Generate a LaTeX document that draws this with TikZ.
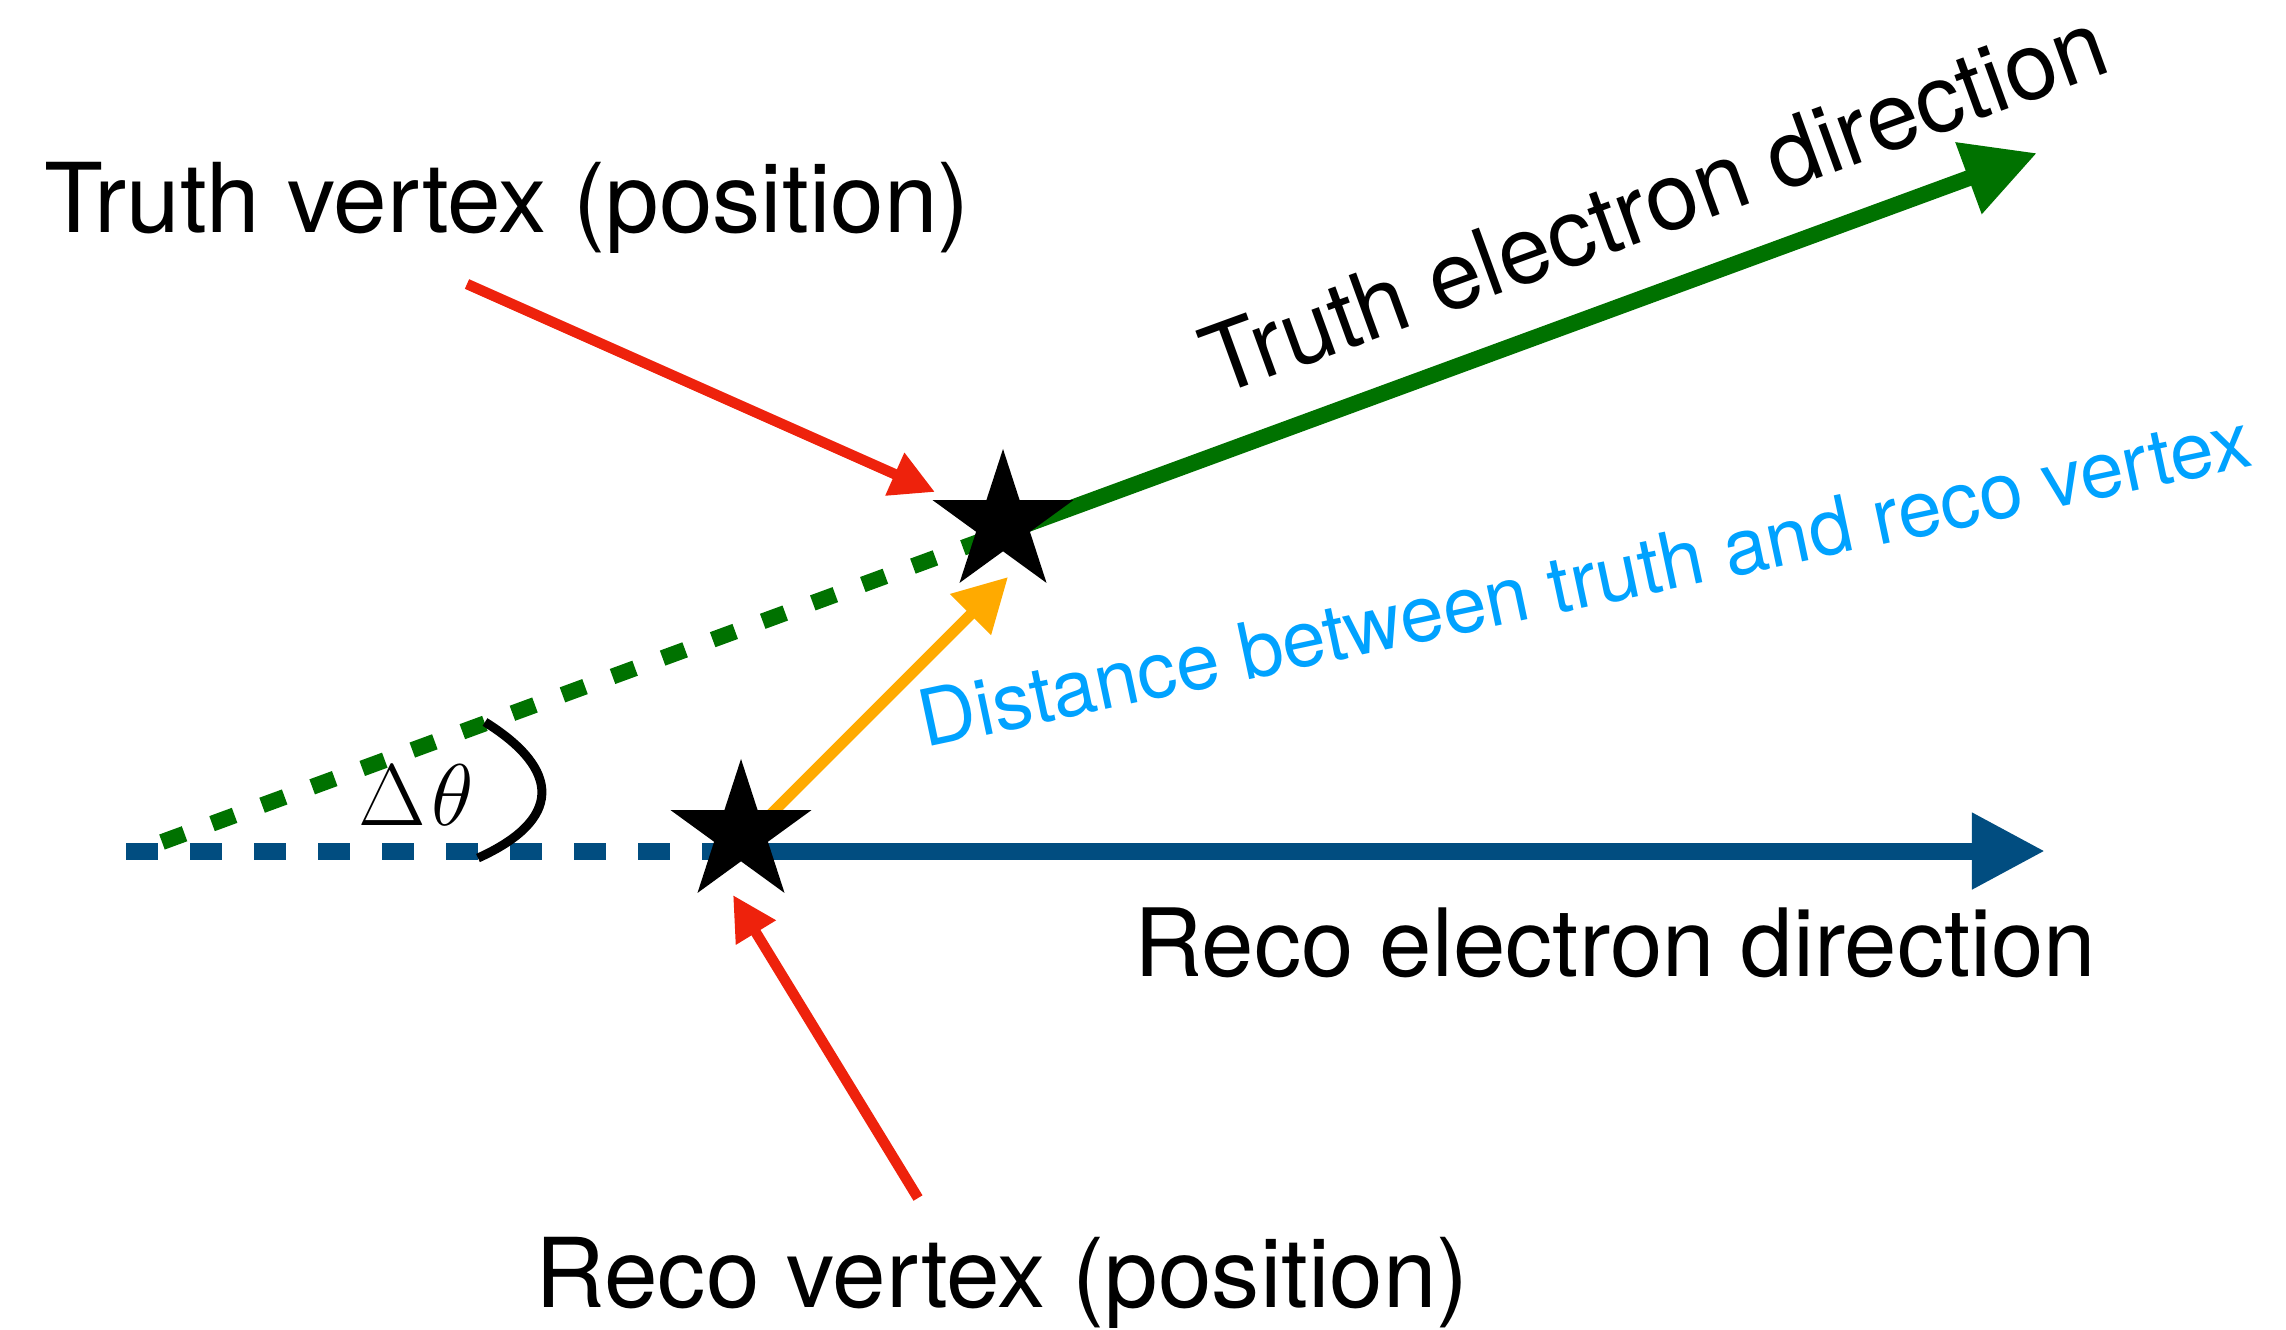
\documentclass[tikz,border=0pt]{standalone}
\usepackage{fontspec}
\setsansfont{TeX Gyre Heros}
\usetikzlibrary{arrows.meta,shapes.geometric}
\definecolor{tgreen}{RGB}{0,114,0}
\definecolor{rblue}{RGB}{1,77,128}
\definecolor{kred}{RGB}{238,34,12}
\definecolor{kyellow}{RGB}{255,170,0}
\definecolor{lblue}{RGB}{0,162,255}
\begin{document}
\begin{tikzpicture}[x=0.01cm,y=-0.01cm,
  lbl/.style={font=\sffamily\fontsize{27.4}{32}\selectfont, inner sep=0pt, anchor=base west},
  lbldir/.style={font=\sffamily\fontsize{26.8}{32}\selectfont, inner sep=0pt, anchor=base west},
  smalllbl/.style={font=\sffamily\fontsize{22.3}{26}\selectfont, inner sep=0pt, anchor=base west, text=lblue},
  vstar/.style={star, star points=5, star point ratio=2.618, minimum size=1.48cm, inner sep=0pt, outer sep=0pt, fill=black, draw=none},
  bigarrow/.style={line width=0.17cm, -{Triangle[length=0.73cm,width=0.72cm]}},
  dashgreen/.style={line width=0.16cm, tgreen, dash pattern=on 0.24cm off 0.293cm},
  dashblue/.style={line width=0.17cm, rblue, dash pattern=on 0.32cm off 0.32cm},
  redarrow/.style={line width=0.105cm, kred, -{Triangle[length=0.44cm,width=0.44cm]}},
  yelarrow/.style={line width=0.11cm, kyellow, -{Triangle[length=0.53cm,width=0.55cm]}},
  anglearc/.style={line width=0.09cm, black}
]
\useasboundingbox (0,0) rectangle (2286,1329);

% key coordinates
\coordinate (O)  at (126,851);
\coordinate (G0) at (162,842);
\coordinate (tg) at (1003,533);
\coordinate (gtip) at (2037,153);
\coordinate (rb) at (741,851);
\coordinate (btip) at (2045,851);
\coordinate (ys) at (755,830);
\coordinate (ytip) at (1008,577);
\coordinate (r1s) at (467,284);
\coordinate (r1t) at (935,492);
\coordinate (r2s) at (918,1198);
\coordinate (r2t) at (733,895);
\coordinate (a1) at (485,722);
\coordinate (a2) at (478,858);

% direction lines
\draw[dashgreen] (G0) -- (tg);
\draw[bigarrow, tgreen, line width=0.16cm] (tg) -- (gtip);
\draw[dashblue] (O) -- (rb);
\draw[bigarrow, rblue] (rb) -- (btip);

% distance arrow
\draw[yelarrow] (ys) -- (ytip);

% angle
\draw[anglearc] (a1) .. controls (562,770) and (562,820) .. (a2);
\node[inner sep=0pt, anchor=base west, font=\fontsize{29}{33}\selectfont] (dth) at (358,825) {$\Delta\mkern1mu\theta$};

% vertices
\node[vstar] (T) at (1003,523) {};
\node[vstar] (R) at (741,833) {};

% red pointers
\draw[redarrow] (r1s) -- (r1t);
\draw[redarrow] (r2s) -- (r2t);

% labels
\node[lbl] (tv) at (44,232) {Truth vertex (position)};
\node[lbl] (rv) at (535,1307) {Reco vertex (position)};
\node[lbldir] (red) at (1134,976) {Reco electron direction};
\node[lbldir, rotate=20] (ted) at (1217,397) {Truth electron direction};
\node[smalllbl, rotate=12] (dist) at (925,748) {Distance between truth and reco vertex};
\end{tikzpicture}
\end{document}
